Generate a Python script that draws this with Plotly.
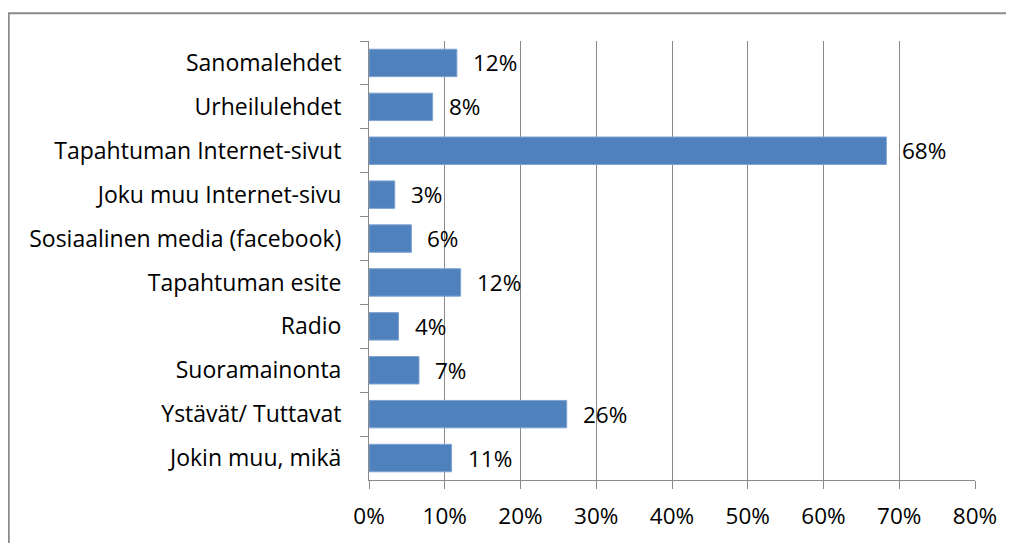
import plotly.graph_objects as go

# =========================
# DATA
# =========================
categories = [
    "Sanomalehdet",
    "Urheilulehdet",
    "Tapahtuman Internet-sivut",
    "Joku muu Internet-sivu",
    "Sosiaalinen media (facebook)",
    "Tapahtuman esite",
    "Radio",
    "Suoramainonta",
    "Ystävät/ Tuttavat",
    "Jokin muu, mikä",
]
shares = [0.116, 0.084, 0.683, 0.034, 0.056, 0.121, 0.039, 0.066, 0.261, 0.109]
x_ticks = [0, 0.1, 0.2, 0.3, 0.4, 0.5, 0.6, 0.7, 0.8]

FONT = "Open Sans, Liberation Sans, sans-serif"
GRID = "#8a8a8a"

fig = go.Figure()

fig.add_trace(go.Bar(
    x=shares,
    y=categories,
    orientation="h",
    marker=dict(color="#4f81bd", line=dict(color="#7fa3d3", width=1)),
    hoverinfo="skip",
))

# value labels to the right of each bar
for cat, val in zip(categories, shares):
    fig.add_annotation(
        x=val, y=cat,
        text=f"{val:.0%}",
        showarrow=False,
        xanchor="left",
        xshift=14,
        font=dict(family=FONT, size=22.5, color="#000000"),
    )

# chart-area border (left and top visible, rest clipped by window)
fig.add_shape(
    type="rect",
    xref="paper", yref="paper",
    x0=-0.5945, x1=1.1, y0=-0.2, y1=1.0632,
    line=dict(color="#8a8a8a", width=2),
    fillcolor="rgba(0,0,0,0)",
    layer="below",
)

# page body has an 8px margin, so the figure is a little smaller and shifted
fig.update_layout(
    width=1006,
    height=535,
    margin=dict(l=361, r=39, t=33, b=59),
    paper_bgcolor="white",
    plot_bgcolor="white",
    showlegend=False,
    bargap=0.375,
    font=dict(family=FONT, size=22.5, color="#000000"),
    xaxis=dict(
        range=[0, 0.8],
        tickvals=x_ticks,
        tickformat=".0%",
        showgrid=True,
        gridcolor=GRID,
        gridwidth=1,
        zeroline=False,
        showline=True,
        linecolor=GRID,
        linewidth=1,
        ticks="outside",
        ticklen=8,
        tickcolor=GRID,
        tickfont=dict(family=FONT, size=22.5),
        ticklabelstandoff=8,
        fixedrange=True,
    ),
    yaxis=dict(
        autorange="reversed",
        showgrid=False,
        showline=True,
        linecolor=GRID,
        linewidth=1,
        ticks="outside",
        ticklen=8,
        tickcolor=GRID,
        tickson="boundaries",
        tickfont=dict(family=FONT, size=23),
        ticklabelstandoff=22,
        fixedrange=True,
    ),
)

fig.write_html("out.html", config={"displayModeBar": False})
